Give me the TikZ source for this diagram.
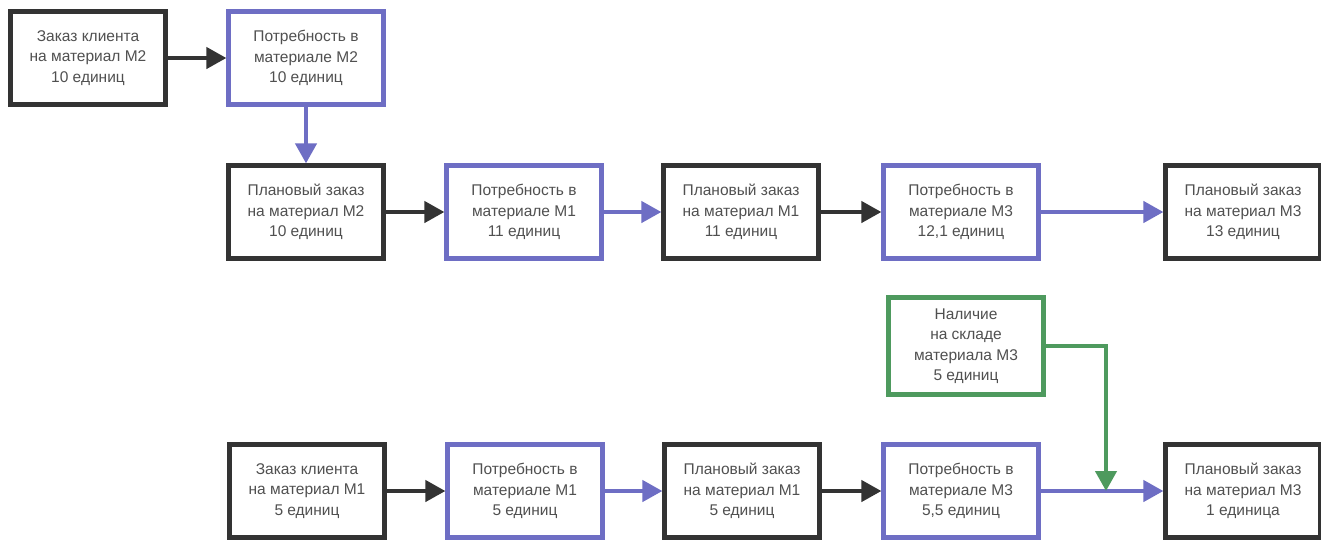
\documentclass[tikz,border=0pt]{standalone}
\usepackage{fontspec}
\setmainfont{Liberation Sans}
\usetikzlibrary{arrows.meta}
\definecolor{bk}{HTML}{333333}
\definecolor{bl}{HTML}{6E6EC4}
\definecolor{gr}{HTML}{4E9A5E}
\definecolor{tx}{HTML}{505050}
\tikzset{
  box/.style={draw, line width=4.2pt, fill=white, minimum width=155pt, minimum height=93pt,
    align=center, text=tx, font=\fontsize{15.5}{20.5}\selectfont, inner sep=0pt},
  bbox/.style={box, draw=bk},
  ubox/.style={box, draw=bl},
  gbox/.style={box, draw=gr},
  conn/.style={line width=4.2pt, -{Triangle[length=20pt,width=21pt]}},
  bconn/.style={conn, draw=bk},
  uconn/.style={conn, draw=bl},
  gconn/.style={conn, draw=gr},
}
\begin{document}
\begin{tikzpicture}[x=1pt,y=-1pt]
\useasboundingbox (0,0) rectangle (1321,539);
\fill[white] (0,0) rectangle (1321,539);
% row 1
\node[bbox] (A) at (88,58) {Заказ клиента\\на материал М2\\10 единиц};
\node[ubox] (B) at (306,58) {Потребность в\\материале М2\\10 единиц};
% row 2
\node[bbox] (C) at (306,212) {Плановый заказ\\на материал М2\\10 единиц};
\node[ubox] (D) at (524,212) {Потребность в\\материале М1\\11 единиц};
\node[bbox] (E) at (741,212) {Плановый заказ\\на материал М1\\11 единиц};
\node[ubox] (F) at (961,212) {Потребность в\\материале М3\\12,1 единиц};
\node[bbox] (G) at (1243,212) {Плановый заказ\\на материал М3\\13 единиц};
% green
\node[gbox, minimum height=97pt] (H) at (966,346) {Наличие\\на складе\\материала М3\\5 единиц};
% row 3
\node[bbox] (I) at (307,491) {Заказ клиента\\на материал М1\\5 единиц};
\node[ubox] (J) at (525,491) {Потребность в\\материале М1\\5 единиц};
\node[bbox] (K) at (742,491) {Плановый заказ\\на материал М1\\5 единиц};
\node[ubox] (L) at (961,491) {Потребность в\\материале М3\\5,5 единиц};
\node[bbox] (M) at (1243,491) {Плановый заказ\\на материал М3\\1 единица};
\coordinate (jn) at (1106,491);
% connectors
\draw[bconn] (A) -- (B);
\draw[uconn] (B) -- (C);
\draw[bconn] (C) -- (D);
\draw[uconn] (D) -- (E);
\draw[bconn] (E) -- (F);
\draw[uconn] (F) -- (G);
\draw[bconn] (I) -- (J);
\draw[uconn] (J) -- (K);
\draw[bconn] (K) -- (L);
\draw[uconn] (L) -- (M);
\draw[gconn] (H.east) -| (jn);
\end{tikzpicture}
\end{document}
